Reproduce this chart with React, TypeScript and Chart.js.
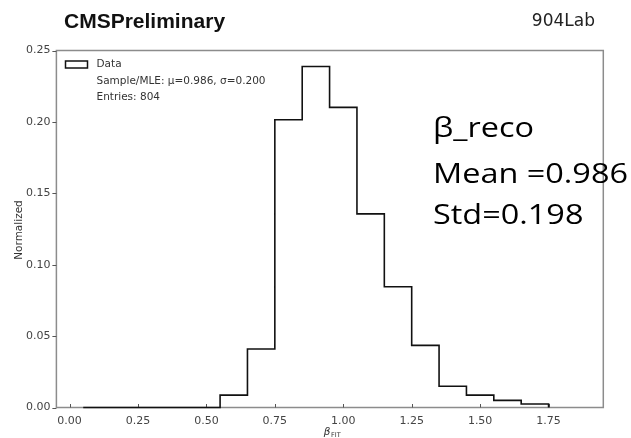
import React, { useEffect, useRef } from "react";
import { Chart, registerables } from "chart.js";

Chart.register(...registerables);

// ---- data ----
const binEdges = [0.05, 0.15, 0.25, 0.35, 0.45, 0.55, 0.65, 0.75, 0.85, 0.95, 1.05, 1.15, 1.25, 1.35, 1.45, 1.55, 1.65, 1.75];
const normalized = [0, 0, 0, 0, 0, 0.0087, 0.041, 0.2015, 0.2388, 0.2102, 0.1356, 0.0846, 0.0435, 0.0149, 0.0087, 0.005, 0.0025];
const xTicks = [0, 0.25, 0.5, 0.75, 1.0, 1.25, 1.5, 1.75];
const yTicks = [0, 0.05, 0.1, 0.15, 0.2, 0.25];
const xRange = [-0.048, 1.95];
const yRange = [0, 0.25];

const headerLeft = "CMSPreliminary";
const headerRight = "904Lab";
const legendLabel = "Data";
const legendStats = "Sample/MLE: μ=0.986, σ=0.200";
const legendEntries = "Entries: 804";
const yTitle = "Normalized";
const xTitleMain = "β";
const xTitleSub = "FIT";
const annotation = ["β_reco", "Mean =0.986", "Std=0.198"];

const overlayPlugin = {
  id: "overlay",
  beforeDatasetsDraw(chart: any) {
    const { ctx, chartArea: a, scales } = chart;
    ctx.save();
    ctx.strokeStyle = "#8c8c8c";
    ctx.lineWidth = 1.5;
    ctx.strokeRect(a.left, a.top, a.right - a.left, a.bottom - a.top);
    ctx.strokeStyle = "#555";
    ctx.lineWidth = 1;
    for (const v of xTicks) {
      const px = Math.round(scales.x.getPixelForValue(v)) + 0.5;
      ctx.beginPath();
      ctx.moveTo(px, a.bottom);
      ctx.lineTo(px, a.bottom - 3.5);
      ctx.stroke();
    }
    for (const v of yTicks) {
      const py = Math.round(scales.y.getPixelForValue(v)) + 0.5;
      ctx.beginPath();
      ctx.moveTo(a.left - 4, py);
      ctx.lineTo(a.left, py);
      ctx.stroke();
    }
    ctx.restore();
  },
  afterDraw(chart: any) {
    const { ctx, chartArea: a } = chart;
    ctx.save();
    // header
    ctx.fillStyle = "#111";
    ctx.textBaseline = "alphabetic";
    ctx.textAlign = "left";
    ctx.font = "bold 21px 'Liberation Sans', Arial, sans-serif";
    ctx.fillText(headerLeft, 64, 27.5);
    ctx.font = "17px 'DejaVu Sans', sans-serif";
    ctx.fillStyle = "#222";
    ctx.textAlign = "right";
    ctx.fillText(headerRight, 595, 26);

    // legend
    ctx.strokeStyle = "#111";
    ctx.lineWidth = 1.5;
    ctx.strokeRect(65.5, 61, 22, 7);
    ctx.fillStyle = "#333";
    ctx.textAlign = "left";
    ctx.textBaseline = "middle";
    ctx.font = "10.5px 'DejaVu Sans', sans-serif";
    ctx.fillText(legendLabel, 96.5, 64.5);
    ctx.fillText(legendStats, 96.5, 81);
    ctx.fillText(legendEntries, 96.5, 97);

    // y title
    ctx.save();
    ctx.translate(19, 230);
    ctx.rotate(-Math.PI / 2);
    ctx.textAlign = "center";
    ctx.font = "10.5px 'DejaVu Sans', sans-serif";
    ctx.fillStyle = "#333";
    ctx.fillText(yTitle, 0, 0);
    ctx.restore();

    // x title
    const cx = 332;
    ctx.font = "italic 10.5px 'DejaVu Sans', sans-serif";
    const wMain = ctx.measureText(xTitleMain).width;
    ctx.font = "6.5px 'DejaVu Sans', sans-serif";
    const wSub = ctx.measureText(xTitleSub).width;
    const startX = cx - (wMain + wSub) / 2;
    ctx.textAlign = "left";
    ctx.textBaseline = "alphabetic";
    ctx.fillStyle = "#333";
    ctx.font = "italic 10.5px 'DejaVu Sans', sans-serif";
    ctx.fillText(xTitleMain, startX, 435);
    ctx.font = "6.5px 'DejaVu Sans', sans-serif";
    ctx.fillText(xTitleSub, startX + wMain + 0.5, 437);

    // annotation
    ctx.fillStyle = "#000";
    ctx.font = "28px 'Open Sans', sans-serif";
    const ref = ctx.measureText(annotation[1]).width;
    const sx = 195 / ref;
    const baselines = [137, 183, 224];
    annotation.forEach((t, i) => {
      ctx.save();
      ctx.translate(433, baselines[i]);
      ctx.scale(sx, 1);
      ctx.fillText(t, 0, 0);
      ctx.restore();
    });
    ctx.restore();
  },
};

export default function App() {
  const canvasRef = useRef<HTMLCanvasElement | null>(null);

  useEffect(() => {
    const canvas = canvasRef.current;
    if (!canvas) return;
    const points = normalized.map((v, i) => ({ x: binEdges[i], y: v }));
    points.push({ x: binEdges[binEdges.length - 1], y: 0 });

    const chart = new Chart(canvas, {
      type: "line",
      data: {
        datasets: [
          {
            data: points,
            stepped: "before" as any,
            borderColor: "#111",
            borderWidth: 1.6,
            pointRadius: 0,
            fill: false,
            clip: 4 as any,
          },
        ],
      },
      options: {
        animation: false,
        responsive: false,
        devicePixelRatio: 1,
        layout: { padding: { left: 0, right: 27.7, top: 50.5, bottom: 0 } },
        plugins: { legend: { display: false }, tooltip: { enabled: false } },
        scales: {
          x: {
            type: "linear",
            min: xRange[0],
            max: xRange[1],
            grid: { display: false, drawTicks: false },
            border: { display: false },
            afterBuildTicks: (s: any) => {
              s.ticks = xTicks.map((v) => ({ value: v }));
            },
            afterFit: (s: any) => {
              s.height = 30.5;
            },
            ticks: {
              autoSkip: false,
              maxRotation: 0,
              padding: 7,
              color: "#444",
              font: { family: "'DejaVu Sans', sans-serif", size: 11 },
              callback: (v: any) => Number(v).toFixed(2),
            },
          },
          y: {
            type: "linear",
            min: yRange[0],
            max: yRange[1],
            grid: { display: false, drawTicks: false },
            border: { display: false },
            afterBuildTicks: (s: any) => {
              s.ticks = yTicks.map((v) => ({ value: v }));
            },
            afterFit: (s: any) => {
              s.width = 56.4;
            },
            ticks: {
              padding: 6,
              color: "#444",
              font: { family: "'DejaVu Sans', sans-serif", size: 11 },
              callback: (v: any) => Number(v).toFixed(2),
            },
          },
        },
      },
      plugins: [overlayPlugin],
    });
    return () => chart.destroy();
  }, []);

  return (
    <div style={{ position: "fixed", left: 0, top: 0, width: 631, height: 438, background: "#fff" }}>
      <canvas ref={canvasRef} width={631} height={438} />
    </div>
  );
}
